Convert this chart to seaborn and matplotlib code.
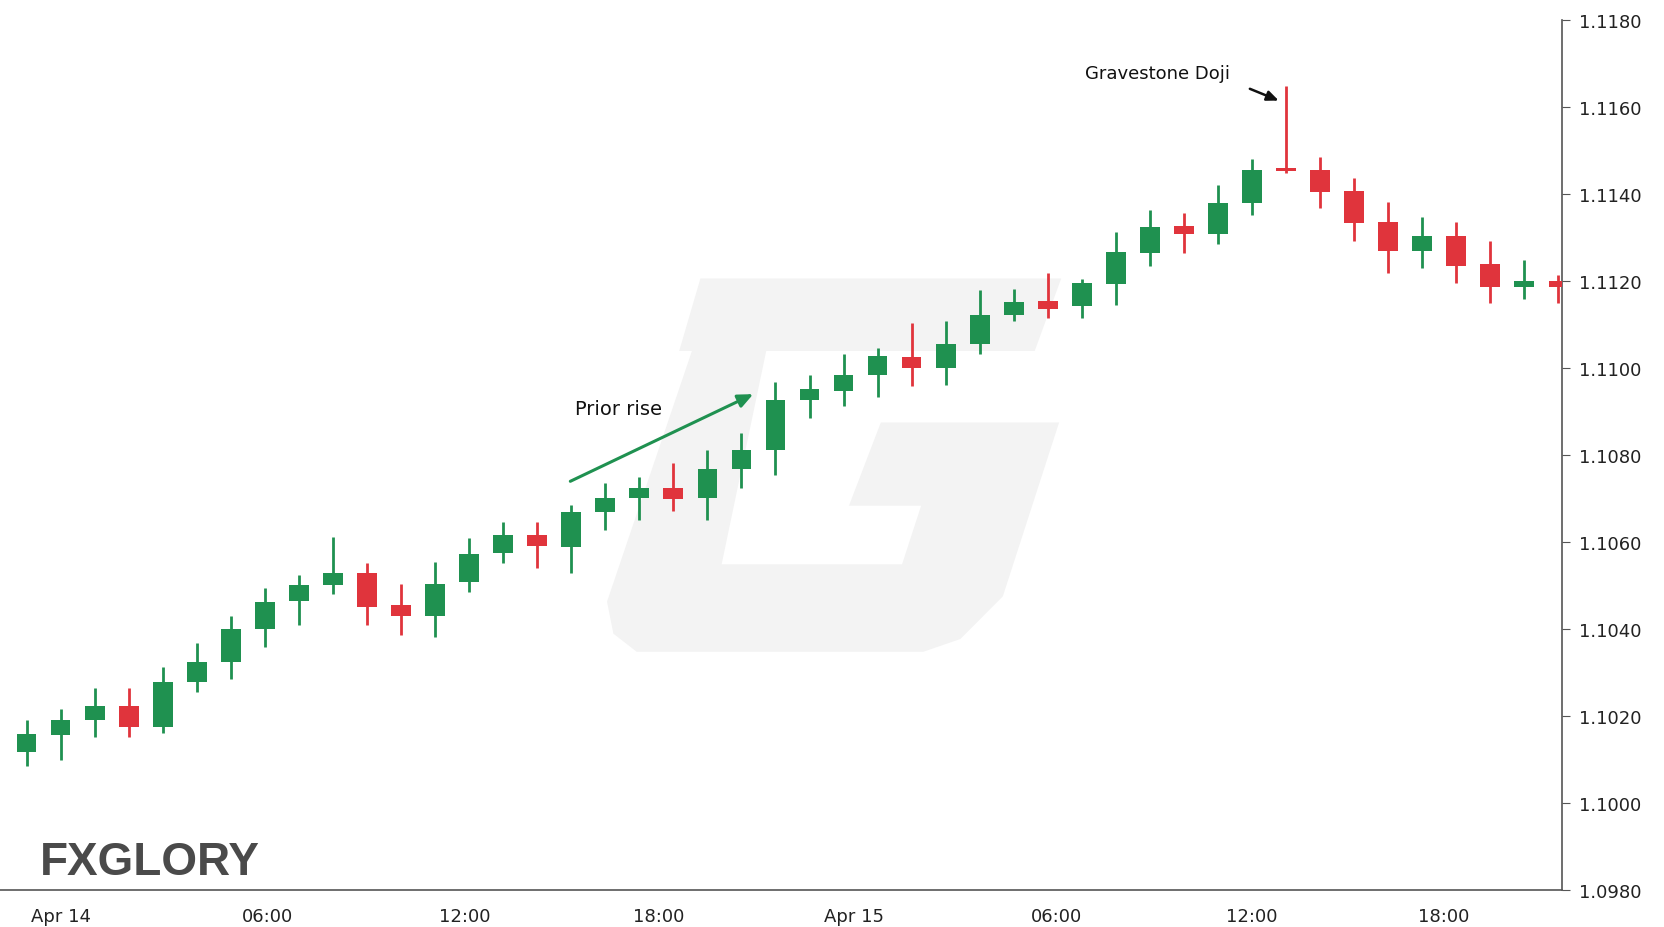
import numpy as np
import pandas as pd
import matplotlib
matplotlib.use('Agg')
import matplotlib.pyplot as plt
from matplotlib.patches import Polygon
import seaborn as sns

# hourly EUR/USD candles, Apr 13 23:00 -> Apr 15 20:00
opens = [1.10117, 1.10156, 1.10190, 1.10222, 1.10175, 1.10278, 1.10325, 1.10399, 1.10465, 1.10502,
         1.10529, 1.10455, 1.10431, 1.10507, 1.10575, 1.10617, 1.10588, 1.10669, 1.10701, 1.10725,
         1.10701, 1.10767, 1.10811, 1.10926, 1.10948, 1.10985, 1.11025, 1.11000, 1.11056, 1.11123,
         1.11154, 1.11142, 1.11194, 1.11265, 1.11326, 1.11309, 1.11380, 1.11461, 1.11456, 1.11407,
         1.11336, 1.11270, 1.11304, 1.11240, 1.11186, 1.11201]
highs = [1.10190, 1.10215, 1.10264, 1.10264, 1.10313, 1.10367, 1.10431, 1.10494, 1.10524, 1.10612,
         1.10551, 1.10504, 1.10553, 1.10610, 1.10647, 1.10647, 1.10686, 1.10735, 1.10750, 1.10782,
         1.10811, 1.10850, 1.10968, 1.10985, 1.11032, 1.11047, 1.11103, 1.11108, 1.11179, 1.11182,
         1.11218, 1.11206, 1.11314, 1.11363, 1.11356, 1.11422, 1.11481, 1.11648, 1.11486, 1.11437,
         1.11383, 1.11348, 1.11336, 1.11292, 1.11248, 1.11215]
lows = [1.10085, 1.10099, 1.10151, 1.10151, 1.10161, 1.10254, 1.10286, 1.10359, 1.10409, 1.10480,
        1.10409, 1.10386, 1.10382, 1.10485, 1.10551, 1.10541, 1.10529, 1.10627, 1.10651, 1.10671,
        1.10651, 1.10725, 1.10755, 1.10885, 1.10914, 1.10934, 1.10958, 1.10961, 1.11032, 1.11108,
        1.11115, 1.11115, 1.11145, 1.11236, 1.11265, 1.11285, 1.11353, 1.11449, 1.11368, 1.11292,
        1.11218, 1.11231, 1.11196, 1.11150, 1.11159, 1.11150]
closes = [1.10158, 1.10190, 1.10222, 1.10175, 1.10278, 1.10325, 1.10399, 1.10463, 1.10502, 1.10529,
          1.10450, 1.10431, 1.10504, 1.10573, 1.10617, 1.10590, 1.10669, 1.10701, 1.10725, 1.10698,
          1.10767, 1.10811, 1.10926, 1.10951, 1.10985, 1.11027, 1.11000, 1.11056, 1.11123, 1.11152,
          1.11137, 1.11196, 1.11267, 1.11324, 1.11309, 1.11380, 1.11456, 1.11454, 1.11405, 1.11334,
          1.11270, 1.11304, 1.11236, 1.11186, 1.11201, 1.11186]

tick_pos = [1.0, 7.08, 12.88, 18.58, 24.32, 30.25, 35.98, 41.63]
tick_labels = ['Apr 14', '06:00', '12:00', '18:00', 'Apr 15', '06:00', '12:00', '18:00']
y_ticks = [1.0980, 1.1000, 1.1020, 1.1040, 1.1060, 1.1080, 1.1100, 1.1120, 1.1140, 1.1160, 1.1180]

df = pd.DataFrame({'open': opens, 'high': highs, 'low': lows, 'close': closes})
df['x'] = np.arange(len(df))
df['up'] = df['close'] >= df['open']

GREEN, RED = '#1f9150', '#e0343c'

sns.set_style('white')
plt.rcParams['font.family'] = ['DejaVu Sans']

fig = plt.figure(figsize=(16.64, 9.28), dpi=100)
fig.patch.set_facecolor('white')

# faint watermark "G" (display pixel coords of a 1568x870 frame)
W, H = 1568.0, 870.0
def to_fig(pts):
    return [(px / W, 1 - py / H) for px, py in pts]
top_bar = [(640, 330), (660, 262), (1000, 262), (975, 330)]
body = [(652, 330), (722, 330), (680, 530), (850, 530), (868, 475), (800, 475), (830, 397),
        (998, 397), (945, 560), (905, 600), (870, 612), (600, 612), (578, 595), (572, 565)]
for pts in (top_bar, body):
    fig.patches.append(Polygon(to_fig(pts), closed=True, transform=fig.transFigure,
                               facecolor='#f3f3f3', edgecolor='none', zorder=0))

ax = fig.add_axes([0.0, 0.040, 0.939, 0.937])
ax.set_facecolor('none')
ax.set_zorder(2)

colors = np.where(df['up'], GREEN, RED)
ax.vlines(df['x'], df['low'], df['high'], colors=colors, linewidth=2.0, zorder=2)
body_bottom = df[['open', 'close']].min(axis=1)
body_h = (df['close'] - df['open']).abs().clip(lower=0.00004)
ax.bar(df['x'], body_h, bottom=body_bottom, width=0.58, color=colors, zorder=3, linewidth=0)

ax.set_xlim(-0.78, 45.12)
ax.set_ylim(1.0980, 1.1180)
ax.set_xticks(tick_pos)
ax.set_xticklabels(tick_labels, fontsize=13, color='#222222')
ax.yaxis.tick_right()
ax.set_yticks(y_ticks)
ax.set_yticklabels([f'{v:.4f}' for v in y_ticks], fontsize=13, color='#222222')
ax.tick_params(axis='both', direction='out', length=6, color='#555555', pad=6)
for s in ['top', 'left']:
    ax.spines[s].set_visible(False)
for s in ['right', 'bottom']:
    ax.spines[s].set_color('#555555')
    ax.spines[s].set_linewidth(1.2)

ax.annotate('', xy=(21.42, 1.10943), xytext=(15.9, 1.10737),
            arrowprops=dict(arrowstyle='-|>,head_length=0.9,head_width=0.4', color=GREEN, lw=2.2))
ax.text(16.1, 1.10907, 'Prior rise', fontsize=14, color='#111111', va='center')
ax.text(31.09, 1.11680, 'Gravestone Doji', fontsize=13, color='#111111', va='center')
ax.annotate('', xy=(36.86, 1.11613), xytext=(35.86, 1.11645),
            arrowprops=dict(arrowstyle='-|>,head_length=0.7,head_width=0.3', color='#111111', lw=1.8))

fig.text(38 / W, 1 - 830 / H, 'FXGLORY', fontsize=33, fontweight='bold', color='#4a4a4a',
         family='Liberation Sans', va='bottom', ha='left')

fig.savefig('out.png', dpi=100, facecolor='white')
